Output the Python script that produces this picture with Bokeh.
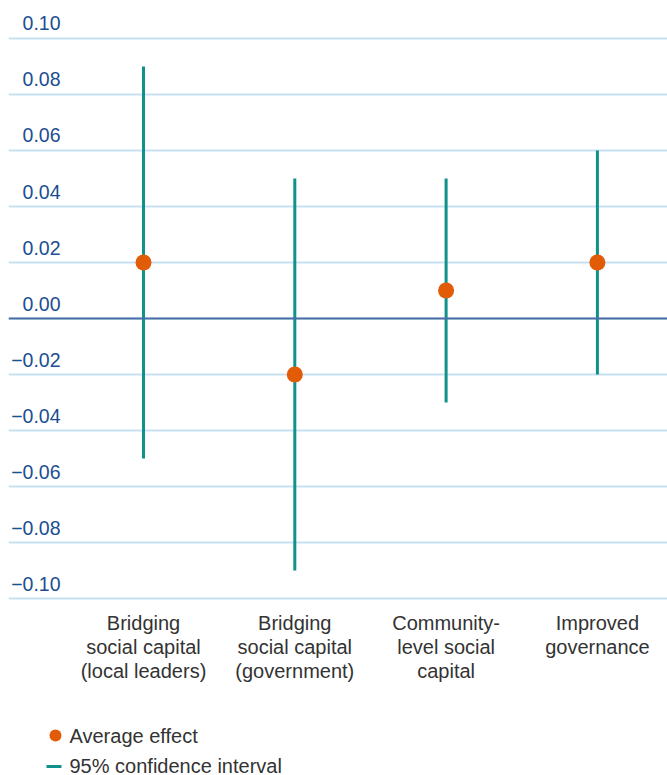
from bokeh.plotting import figure
from bokeh.models import Range1d, FixedTicker, Span, ColumnDataSource
from bokeh.core.properties import value
from bokeh.embed import file_html
from bokeh.resources import INLINE

# ---- data ----
categories = ["Bridging\nsocial capital\n(local leaders)",
              "Bridging\nsocial capital\n(government)",
              "Community-\nlevel social\ncapital",
              "Improved\ngovernance"]
effect = [0.02, -0.02, 0.01, 0.02]
ci_low = [-0.05, -0.09, -0.03, -0.02]
ci_high = [0.09, 0.05, 0.05, 0.06]
y_ticks = [-0.10, -0.08, -0.06, -0.04, -0.02, 0.00, 0.02, 0.04, 0.06, 0.08, 0.10]
y_tick_labels = [f"{t:.2f}".replace("-", "\u2212") for t in y_ticks]
legend_labels = ["Average effect", "95% confidence interval"]

# ---- style ----
FONT = "Liberation Sans"
ORANGE = "#e25b06"
TEAL = "#10918c"
GRID = "#c8e1f2"
ZERO = "#4a6fa6"
TICK_COL = "#1c4e91"
TEXT_COL = "#333333"

W, H = 667, 775
LEFT = 8
X0, X1 = -0.8923, 3.4633
Y1, Y0 = 0.11357, -0.16321

def px2x(px):
    return X0 + (px - LEFT) / (W - LEFT) * (X1 - X0)

def px2y(py):
    return Y1 - py / H * (Y1 - Y0)

p = figure(width=W, height=H, output_backend="svg", toolbar_location=None,
           x_range=Range1d(X0, X1), y_range=Range1d(Y0, Y1),
           min_border_left=LEFT, min_border_right=0, min_border_top=0, min_border_bottom=0)
p.outline_line_color = None
p.xaxis.visible = False
p.yaxis.visible = False
p.xgrid.visible = False
p.ygrid.ticker = FixedTicker(ticks=y_ticks)
p.ygrid.grid_line_color = GRID
p.ygrid.grid_line_width = 2
p.yaxis.ticker = FixedTicker(ticks=y_ticks)

p.add_layout(Span(location=0, dimension="width", line_color=ZERO, line_width=2))

xs = list(range(len(categories)))
src = ColumnDataSource(dict(x=xs, effect=effect, lo=ci_low, hi=ci_high, cat=categories))

p.segment(x0="x", y0="lo", x1="x", y1="hi", source=src, line_color=TEAL, line_width=3)
p.scatter(x="x", y="effect", source=src, size=16, fill_color=ORANGE, line_color=None)

# y tick labels above gridlines
tsrc = ColumnDataSource(dict(x=[X0] * len(y_ticks), y=y_ticks, t=y_tick_labels))
p.text(x="x", y="y", text="t", source=tsrc, x_offset=52, y_offset=-15,
       text_align="right", text_baseline="alphabetic",
       text_font=value(FONT), text_font_size="19.5px", text_color=TICK_COL)

# category labels
csrc = ColumnDataSource(dict(x=xs, y=[y_ticks[0]] * len(xs), t=categories))
p.text(x="x", y="y", text="t", source=csrc, y_offset=13,
       text_align="center", text_baseline="top", text_line_height=1.1,
       text_font=value(FONT), text_font_size="20px", text_color=TEXT_COL)

# legend (manual)
p.scatter(x=[px2x(55)], y=[px2y(735)], size=12, fill_color=ORANGE, line_color=None)
p.segment(x0=[px2x(46)], y0=[px2y(766)], x1=[px2x(61)], y1=[px2y(766)],
          line_color=TEAL, line_width=3)
p.text(x=[px2x(69), px2x(69)], y=[px2y(735), px2y(765)], text=legend_labels,
       text_align="left", text_baseline="middle",
       text_font=value(FONT), text_font_size="20px", text_color=TEXT_COL)

open("out.html", "w").write(file_html(p, INLINE))
